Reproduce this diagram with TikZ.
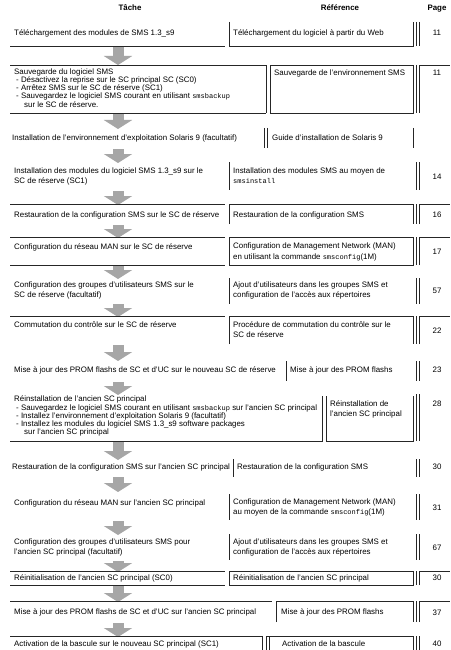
\documentclass[tikz,border=0pt]{standalone}
\usepackage{fontspec}
\setmainfont{Liberation Sans}
\newfontfamily\monof{Liberation Mono}
\usetikzlibrary{arrows.meta}
\newcommand\smscmd[1]{{\monof\fontsize{7}{8}\selectfont #1}}
\begin{document}
\begin{tikzpicture}[x=1pt,y=-1pt,
 txt/.style={anchor=base west,inner sep=0pt,font=\fontsize{7.9}{9}\selectfont},
 pg/.style={anchor=base,inner sep=0pt,font=\fontsize{7.9}{9}\selectfont},
 hd/.style={anchor=base,inner sep=0pt,font=\fontsize{7.9}{9}\selectfont\bfseries},
 rule/.style={draw=black!85,line width=0.7pt},
 flow/.style={draw=black!35,line width=11pt,-{Triangle[width=28pt,length=9pt]}}]
\useasboundingbox (0,0) rectangle (450,650);
\fill[white] (0,0) rectangle (450,650);
% header
\node[hd] (h1) at (130,11) {Tâche};
\node[hd] (h2) at (340,11) {Référence};
\node[hd] (h3) at (437,11) {Page};
% row 1
\node[txt] (t1) at (14,36) {Téléchargement des modules de SMS 1.3\_s9};
\node[txt] (r1) at (233,36) {Téléchargement du logiciel à partir du Web};
\node[pg] (p1) at (437,36) {11};
\draw[rule] (10,46)--(225,46) (229,22)--(229,46)--(413,46)--(413,22) (416,22)--(416,46) (419,22)--(419,46);
\coordinate (a1s) at (118,47); \coordinate (a1e) at (118,65);
\draw[flow] (a1s)--(a1e);
% row 2
\node[txt] (t2a) at (14,75) {Sauvegarde du logiciel SMS};
\node[txt] (t2b) at (16,83) {- Désactivez la reprise sur le SC principal SC (SC0)};
\node[txt] (t2c) at (16,91) {- Arrêtez SMS sur le SC de réserve (SC1)};
\node[txt] (t2d) at (16,99) {- Sauvegardez le logiciel SMS courant en utilisant \smscmd{smsbackup}};
\node[txt] (t2e) at (24,107) {sur le SC de réserve.};
\node[txt] (r2) at (274,76) {Sauvegarde de l'environnement SMS};
\node[pg] (p2) at (437,76) {11};
\draw[rule] (10,65)--(266,65)--(266,113) (10,113)--(266,113);
\draw[rule] (270,65) rectangle (413,113);
\draw[rule] (416,65)--(416,113) (419,113)--(419,65)--(450,65);
\coordinate (a2s) at (118,114); \coordinate (a2e) at (118,129);
\draw[flow] (a2s)--(a2e);
% row 3
\node[txt] (t3) at (12,140) {Installation de l'environnement d'exploitation Solaris 9 (facultatif)};
\node[txt] (r3) at (272,140) {Guide d'installation de Solaris 9};
\draw[rule] (264,128)--(264,148) (267,128)--(267,148) (413,128)--(413,148);
\coordinate (a3s) at (118,149); \coordinate (a3e) at (118,163);
\draw[flow] (a3s)--(a3e);
% row 4
\node[txt] (t4a) at (14,173) {Installation des modules du logiciel SMS 1.3\_s9 sur le};
\node[txt] (t4b) at (14,183) {SC de réserve (SC1)};
\node[txt] (r4a) at (233,173) {Installation des modules SMS au moyen de};
\node[txt] (r4b) at (233,183) {\smscmd{smsinstall}};
\node[pg] (p4) at (437,179) {14};
\draw[rule] (229,162)--(229,190) (416,162)--(416,190) (419,162)--(419,190);
\coordinate (a4s) at (118,191); \coordinate (a4e) at (118,205);
\draw[flow] (a4s)--(a4e);
% row 5
\node[txt] (t5) at (14,217) {Restauration de la configuration SMS sur le SC de réserve};
\node[txt] (r5) at (233,217) {Restauration de la configuration SMS};
\node[pg] (p5) at (437,217) {16};
\draw[rule] (10,204)--(225,204) (229,224)--(229,204)--(413,204)--(413,224) (416,204)--(416,224) (419,224)--(419,204)--(450,204);
\coordinate (a5s) at (118,225); \coordinate (a5e) at (118,238);
\draw[flow] (a5s)--(a5e);
% row 6
\node[txt] (t6) at (14,249) {Configuration du réseau MAN sur le SC de réserve};
\node[txt] (r6a) at (233,248) {Configuration de Management Network (MAN)};
\node[txt] (r6b) at (233,259) {en utilisant la commande \smscmd{smsconfig}(1M)};
\node[pg] (p6) at (437,254) {17};
\draw[rule] (10,237)--(225,237) (10,265)--(225,265);
\draw[rule] (229,237) rectangle (413,265);
\draw[rule] (416,237)--(416,265) (419,265)--(419,237)--(450,237);
\coordinate (a6s) at (118,266); \coordinate (a6e) at (118,279);
\draw[flow] (a6s)--(a6e);
% row 7
\node[txt] (t7a) at (14,287) {Configuration des groupes d'utilisateurs SMS sur le};
\node[txt] (t7b) at (14,297) {SC de réserve (facultatif)};
\node[txt] (r7a) at (233,287) {Ajout d'utilisateurs dans les groupes SMS et};
\node[txt] (r7b) at (233,297) {configuration de l'accès aux répertoires};
\node[pg] (p7) at (437,293) {57};
\draw[rule] (229,278)--(229,304) (416,278)--(416,304) (419,278)--(419,304);
\coordinate (a7s) at (118,304); \coordinate (a7e) at (118,317);
\draw[flow] (a7s)--(a7e);
% row 8
\node[txt] (t8) at (14,327) {Commutation du contrôle sur le SC de réserve};
\node[txt] (r8a) at (233,327) {Procédure de commutation du contrôle sur le};
\node[txt] (r8b) at (233,337) {SC de réserve};
\node[pg] (p8) at (437,333) {22};
\draw[rule] (10,316)--(225,316) (229,344)--(229,316)--(413,316)--(413,344) (416,316)--(416,344) (419,344)--(419,316)--(450,316);
\coordinate (a8s) at (118,345); \coordinate (a8e) at (118,361);
\draw[flow] (a8s)--(a8e);
% row 9
\node[txt] (t9) at (14,372) {Mise à jour des PROM flashs de SC et d'UC sur le nouveau SC de réserve};
\node[txt] (r9) at (290,372) {Mise à jour des PROM flashs};
\node[pg] (p9) at (437,372) {23};
\draw[rule] (286,361)--(286,381) (416,361)--(416,381) (419,361)--(419,381);
\coordinate (a9s) at (118,382); \coordinate (a9e) at (118,395);
\draw[flow] (a9s)--(a9e);
% row 10
\node[txt] (t10a) at (14,401) {Réinstallation de l'ancien SC principal};
\node[txt] (t10b) at (16,410) {- Sauvegardez le logiciel SMS courant en utilisant \smscmd{smsbackup} sur l'ancien SC principal};
\node[txt] (t10c) at (16,418) {- Installez l'environnement d'exploitation Solaris 9 (facultatif)};
\node[txt] (t10d) at (16,426) {- Installez les modules du logiciel SMS 1.3\_s9 software packages};
\node[txt] (t10e) at (24,434) {sur l'ancien SC principal};
\node[txt] (r10a) at (330,406) {Réinstallation de};
\node[txt] (r10b) at (330,416) {l'ancien SC principal};
\node[pg] (p10) at (437,406) {28};
\draw[rule] (10,441)--(322,441)--(322,396);
\draw[rule] (326,396)--(326,441)--(413,441)--(413,396);
\draw[rule] (416,394)--(416,441) (419,394)--(419,441);
\coordinate (a10s) at (118,442); \coordinate (a10e) at (118,460);
\draw[flow] (a10s)--(a10e);
% row 11
\node[txt] (t11) at (12,469) {Restauration de la configuration SMS sur l'ancien SC principal};
\node[txt] (r11) at (237,469) {Restauration de la configuration SMS};
\node[pg] (p11) at (437,469) {30};
\draw[rule] (233,459)--(233,477) (416,459)--(416,477) (419,459)--(419,477);
\coordinate (a11s) at (118,477); \coordinate (a11e) at (118,492);
\draw[flow] (a11s)--(a11e);
% row 12
\node[txt] (t12) at (14,505) {Configuration du réseau MAN sur l'ancien SC principal};
\node[txt] (r12a) at (233,504) {Configuration de Management Network (MAN)};
\node[txt] (r12b) at (233,514) {au moyen de la commande \smscmd{smsconfig}(1M)};
\node[pg] (p12) at (437,510) {31};
\draw[rule] (229,494)--(229,520) (416,494)--(416,520) (419,494)--(419,520);
\coordinate (a12s) at (118,521); \coordinate (a12e) at (118,535);
\draw[flow] (a12s)--(a12e);
% row 13
\node[txt] (t13a) at (14,544) {Configuration des groupes d'utilisateurs SMS pour};
\node[txt] (t13b) at (14,554) {l'ancien SC principal (facultatif)};
\node[txt] (r13a) at (233,544) {Ajout d'utilisateurs dans les groupes SMS et};
\node[txt] (r13b) at (233,554) {configuration de l'accès aux répertoires};
\node[pg] (p13) at (437,550) {67};
\draw[rule] (229,534)--(229,560) (416,534)--(416,560) (419,534)--(419,560);
\coordinate (a13s) at (118,561); \coordinate (a13e) at (118,572);
\draw[flow] (a13s)--(a13e);
% row 14
\node[txt] (t14) at (14,580) {Réinitialisation de l'ancien SC principal (SC0)};
\node[txt] (r14) at (233,580) {Réinitialisation de l'ancien SC principal};
\node[pg] (p14) at (437,580) {30};
\draw[rule] (10,571)--(225,571) (10,585)--(225,585);
\draw[rule] (229,571) rectangle (413,585);
\draw[rule] (416,571)--(416,585) (419,585)--(419,571)--(450,571);
\coordinate (a14s) at (118,586); \coordinate (a14e) at (118,602);
\draw[flow] (a14s)--(a14e);
% row 15
\node[txt] (t15) at (14,614) {Mise à jour des PROM flashs de SC et d'UC sur l'ancien SC principal};
\node[txt] (r15) at (281,614) {Mise à jour des PROM flashs};
\node[pg] (p15) at (437,615) {37};
\draw[rule] (10,601)--(272,601) (276,622)--(276,601)--(413,601)--(413,622) (416,601)--(416,622) (419,622)--(419,601)--(450,601);
\coordinate (a15s) at (118,623); \coordinate (a15e) at (118,637);
\draw[flow] (a15s)--(a15e);
% row 16
\node[txt] (t16) at (14,646) {Activation de la bascule sur le nouveau SC principal (SC1)};
\node[txt] (r16) at (282,646) {Activation de la bascule};
\node[pg] (p16) at (437,646) {40};
\draw[rule] (10,636)--(262,636)--(262,650) (266,650)--(266,636)--(413,636)--(413,650) (269,636)--(269,650) (416,636)--(416,650) (419,636)--(419,650);
\end{tikzpicture}
\end{document}
